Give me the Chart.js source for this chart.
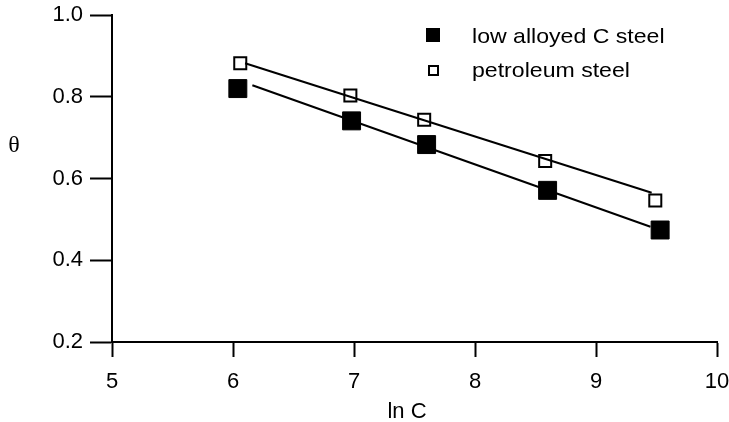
<!DOCTYPE html>
<html>
<head>
<meta charset="utf-8">
<script src="https://cdn.jsdelivr.net/npm/chart.js@4/dist/chart.umd.min.js"></script>
<style>
  html, body { margin: 0; padding: 0; background: #fff; }
  #wrap { width: 729px; height: 422px; }
</style>
</head>
<body>
<div id="wrap"><canvas id="grafico" width="729" height="422"></canvas></div>
<script>
// measured points
const lnCLow = [6.04, 6.98, 7.60, 8.60, 9.53];
const thetaLow = [0.820, 0.741, 0.683, 0.571, 0.474];
const lnCPet = [6.06, 6.97, 7.58, 8.58, 9.49];
const thetaPet = [0.882, 0.803, 0.744, 0.643, 0.546];

// fitted straight lines (end points)
const fitXLow = [6.16, 9.45];
const fitYLow = [0.828, 0.482];
const fitXPet = [6.10, 9.46];
const fitYPet = [0.882, 0.565];

const xTicks = [5, 6, 7, 8, 9, 10];
const yTicks = [0.2, 0.4, 0.6, 0.8, 1.0];
const legendNames = ['low alloyed C steel', 'petroleum steel'];

const pares = (xs, ys) => xs.map((x, i) => ({ x: x, y: ys[i] }));
const fonte = '"Liberation Sans", Arial, sans-serif';

// legend, axis titles drawn by hand
const extras = {
    id: 'extras',
    afterDraw(chart) {
        const ctx = chart.ctx;
        ctx.save();
        ctx.fillStyle = '#000';
        ctx.strokeStyle = '#000';

        // legend
        ctx.fillRect(426, 28, 14, 14);
        ctx.lineWidth = 2;
        ctx.strokeRect(429, 66, 9, 9);
        ctx.font = '21px ' + fonte;
        ctx.textBaseline = 'middle';
        ctx.textAlign = 'left';
        [[legendNames[0], 472, 37], [legendNames[1], 472, 71]].forEach(function(l) {
            ctx.save();
            ctx.translate(l[1], l[2]);
            ctx.scale(1.1, 1);
            ctx.fillText(l[0], 0, 0);
            ctx.restore();
        });

        // x title
        ctx.textAlign = 'center';
        ctx.font = '22px ' + fonte;
        ctx.fillText('ln C', 407, 412);

        // y title
        ctx.font = '24px "Liberation Serif", "Times New Roman", serif';
        ctx.fillText('θ', 14, 146);
        ctx.restore();
    }
};

const ctx = document.getElementById('grafico').getContext('2d');

new Chart(ctx, {
    type: 'scatter',
    data: {
        datasets: [
            {
                label: 'fit low',
                type: 'line',
                data: pares(fitXLow, fitYLow),
                borderColor: '#000',
                borderWidth: 2,
                pointRadius: 0,
                fill: false
            },
            {
                label: 'fit petroleum',
                type: 'line',
                data: pares(fitXPet, fitYPet),
                borderColor: '#000',
                borderWidth: 2,
                pointRadius: 0,
                fill: false
            },
            {
                label: legendNames[0],
                data: pares(lnCLow, thetaLow),
                pointStyle: 'rect',
                pointRadius: 12.7,
                backgroundColor: '#000',
                borderColor: '#000',
                borderWidth: 1
            },
            {
                label: legendNames[1],
                data: pares(lnCPet, thetaPet),
                pointStyle: 'rect',
                pointRadius: 8.5,
                backgroundColor: '#fff',
                borderColor: '#000',
                borderWidth: 2
            }
        ]
    },
    options: {
        responsive: false,
        animation: false,
        events: [],
        layout: { autoPadding: false, padding: { top: 15, right: 12, left: 0, bottom: 0 } },
        plugins: {
            legend: { display: false },
            tooltip: { enabled: false }
        },
        scales: {
            x: {
                type: 'linear',
                min: 5,
                max: 10,
                afterBuildTicks: s => { s.ticks = xTicks.map(v => ({ value: v })); },
                afterFit: s => { s.height = 80; s.paddingLeft = 0; s.paddingRight = 0; },
                border: { color: '#000', width: 2 },
                grid: { drawOnChartArea: false, drawTicks: true, tickLength: 15, tickColor: '#000', tickWidth: 2 },
                ticks: {
                    color: '#000',
                    padding: 12,
                    maxRotation: 0,
                    font: { family: fonte, size: 22 },
                    callback: v => String(v)
                }
            },
            y: {
                type: 'linear',
                min: 0.2,
                max: 1.0,
                afterBuildTicks: s => { s.ticks = yTicks.map(v => ({ value: v })); },
                afterFit: s => { s.width = 112; s.paddingTop = 0; s.paddingBottom = 0; },
                border: { color: '#000', width: 2 },
                grid: { drawOnChartArea: false, drawTicks: true, tickLength: 22, tickColor: '#000', tickWidth: 2 },
                ticks: {
                    color: '#000',
                    padding: 7,
                    font: { family: fonte, size: 22 },
                    callback: v => v.toFixed(1)
                }
            }
        }
    },
    plugins: [extras]
});
</script>
</body>
</html>
